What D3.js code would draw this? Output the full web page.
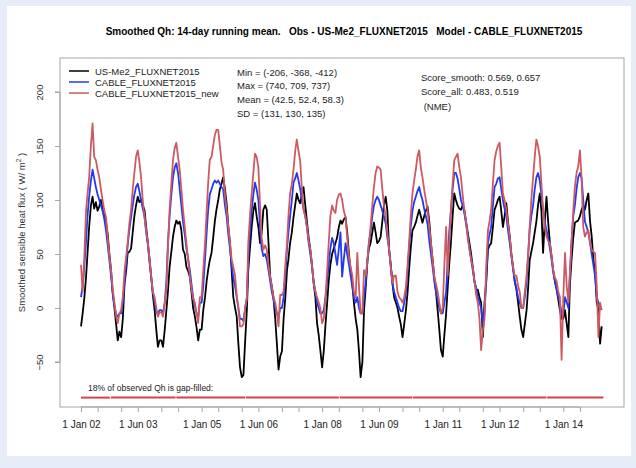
<!DOCTYPE html>
<head>
  <meta charset="utf-8">
  <script src="https://d3js.org/d3.v7.min.js"></script>
  <style>
    body { margin: 0; background: #e6ecf8; }
    svg { display: block; font-family: "Liberation Sans", Arial, sans-serif; }
  </style>
</head>
<body>
<div id="chart"></div>
<script>
  // semi-monthly samples (1st and 16th of each month), one row per year 2002..2014
  var obs = [
    -17, -5, 10, 29, 50, 75, 95, 103, 92, 98, 90, 94, 100, 92, 88, 80, 68, 50, 35, 14, 0, -15, -30, -22,
    -27, -10, 23, 35, 51, 52, 55, 70, 85, 95, 103, 98, 100, 95, 91, 75, 60, 45, 29, 12, -2, -20, -36, -30,
    -30, -36, -20, -2, 15, 38, 52, 66, 75, 81, 78, 80, 72, 54, 50, 38, 34, 29, 15, 0, -8, -18, -30, -20,
    -20, -2, 10, 25, 35, 44, 51, 65, 80, 91, 100, 110, 115, 121, 110, 97, 75, 60, 35, 10, 0, -8, -33, -55,
    -64, -62, -30, -2, 35, 55, 75, 90, 97, 85, 75, 60, 70, 91, 95, 91, 60, 29, 20, 10, -10, -33, -57, -45,
    -40, -10, 10, 35, 45, 60, 70, 84, 95, 106, 100, 97, 105, 112, 95, 80, 65, 54, 40, 23, 10, -14, -25, -39,
    -55, -40, -15, 5, 25, 40, 50, 55, 60, 65, 75, 81, 78, 82, 84, 70, 50, 35, 23, 5, -10, -20, -40, -64,
    -50, -2, 20, 44, 55, 60, 70, 79, 70, 60, 62, 66, 80, 95, 103, 90, 54, 40, 23, 10, 5, 0, -8, -15,
    -27, -15, -2, 15, 35, 55, 72, 75, 79, 85, 91, 85, 79, 85, 90, 94, 80, 60, 45, 29, 15, -2, -20, -39,
    -45, -25, -5, 20, 40, 60, 85, 106, 100, 95, 92, 91, 95, 91, 80, 70, 60, 50, 38, 25, 17, 17, 10, 5,
    -27, 5, 25, 54, 58, 60, 75, 91, 95, 100, 103, 90, 75, 85, 97, 80, 66, 50, 38, 25, 17, 5, -8, -20,
    -27, -15, -2, 20, 44, 52, 60, 70, 80, 95, 106, 90, 51, 80, 103, 80, 60, 48, 35, 25, 17, 8, -2, -10,
    -10, -2, -15, -27, 20, 44, 65, 79, 80, 81, 85, 91, 95, 91, 100, 106, 80, 66, 45, 35, 5, -2, -33, -17
  ];
  var cable = [
    10, 20, 40, 62, 85, 103, 118, 128, 120, 112, 105, 100, 95, 90, 82, 72, 58, 44, 30, 14, 2, -6, -8, -5,
    -5, 5, 25, 42, 58, 72, 84, 95, 105, 112, 115, 108, 100, 92, 85, 70, 58, 42, 28, 15, 5, -3, -6, -2,
    -2, -5, 5, 25, 60, 85, 105, 121, 130, 134, 125, 110, 95, 80, 68, 55, 45, 35, 22, 10, 2, -5, -8, 5,
    5, 20, 45, 70, 90, 105, 110, 115, 118, 116, 118, 115, 112, 110, 95, 85, 68, 55, 40, 28, 20, 10, 0, -10,
    -10, -12, 0, 10, 45, 70, 90, 105, 116, 110, 100, 75, 55, 48, 50, 45, 35, 25, 15, 8, 0, -5, -8, 0,
    0, 10, 30, 55, 70, 85, 100, 116, 120, 125, 118, 110, 100, 92, 85, 75, 60, 50, 38, 25, 15, 5, 0, -5,
    -5, -2, 10, 25, 40, 55, 65, 60, 50, 40, 55, 70, 29, 45, 60, 50, 40, 30, 20, 10, 5, 10, 0, -5,
    -5, 10, 25, 44, 60, 70, 85, 95, 100, 103, 100, 95, 90, 85, 78, 65, 54, 38, 23, 15, 10, 5, 0, -3,
    -3, 5, 15, 35, 55, 75, 90, 98, 103, 108, 112, 105, 100, 92, 85, 78, 62, 50, 38, 25, 15, 8, 0, -5,
    -5, 5, 15, 45, 70, 90, 110, 125, 125, 120, 110, 100, 95, 88, 78, 68, 55, 45, 35, 25, 18, 10, 5, 0,
    -15, -5, 30, 60, 68, 75, 95, 112, 115, 120, 121, 110, 100, 92, 85, 72, 60, 48, 36, 25, 18, 10, 5, 0,
    0, 10, 25, 50, 72, 85, 95, 110, 121, 125, 118, 105, 90, 80, 72, 65, 55, 45, 33, 25, 18, 10, 5, -5,
    -5, 10, 5, 0, 30, 60, 85, 95, 110, 121, 125, 120, 100, 80, 75, 70, 60, 50, 40, 30, 10, 5, 0, 0
  ];
  var cableNew = [
    40, 15, 50, 91, 105, 121, 150, 171, 140, 137, 128, 121, 110, 100, 90, 84, 65, 48, 35, 18, 5, -8, -14, -5,
    -2, 10, 35, 48, 60, 78, 91, 110, 125, 140, 146, 135, 121, 100, 84, 72, 60, 45, 29, 15, 10, 0, -8, -4,
    -4, -8, 5, 17, 55, 91, 115, 137, 148, 153, 140, 128, 110, 91, 75, 60, 45, 29, 18, 8, 5, -5, -14, 10,
    10, 35, 60, 90, 115, 137, 140, 150, 160, 165, 165, 150, 135, 128, 105, 91, 75, 60, 45, 38, 30, 12, 0, -17,
    -17, -15, 0, 8, 60, 85, 106, 125, 143, 140, 130, 95, 65, 54, 58, 54, 40, 29, 20, 10, 5, -4, -17, 12,
    12, 15, 40, 60, 85, 106, 115, 128, 145, 156, 145, 136, 110, 91, 85, 75, 62, 54, 40, 23, 15, 10, 5, 0,
    -14, -10, 10, 35, 60, 85, 95, 90, 88, 100, 105, 106, 100, 90, 84, 65, 47, 38, 30, 15, 10, 51, 20, -5,
    -5, 35, 30, 44, 60, 75, 95, 112, 125, 131, 130, 128, 110, 95, 84, 70, 54, 38, 23, 30, 30, 15, 10, 8,
    5, 10, 20, 40, 60, 85, 106, 118, 128, 140, 146, 130, 121, 110, 100, 91, 75, 60, 45, 29, 22, 15, 5, -5,
    0, 40, 75, 30, 60, 90, 115, 137, 140, 143, 130, 121, 105, 91, 80, 65, 54, 45, 38, 25, 12, 5, -10, -39,
    -20, -10, 40, 72, 80, 91, 115, 137, 145, 150, 153, 130, 106, 100, 91, 78, 66, 50, 38, 30, 30, 20, 15, 0,
    0, 15, 30, 50, 75, 100, 121, 140, 156, 150, 140, 115, 91, 75, 66, 62, 60, 48, 35, 28, 25, 15, 10, -48,
    10, 51, 20, 5, 30, 60, 90, 112, 125, 131, 146, 120, 75, 66, 70, 72, 60, 54, 52, 51, 20, -27, 5, -2
  ];
  var seriesNames = ["US-Me2_FLUXNET2015", "CABLE_FLUXNET2015", "CABLE_FLUXNET2015_new"];
  var seriesColors = ["#000000", "#2338f2", "#cd5a62"];
  var statLines = ["Min = (-206, -368, -412)", "Max = (740, 709, 737)",
                   "Mean = (42.5, 52.4, 58.3)", "SD = (131, 130, 135)"];
  var scoreLines = ["Score_smooth: 0.569, 0.657", "Score_all: 0.483, 0.519", " (NME)"];
  var yTicks = [-50, 0, 50, 100, 150, 200];
  var gapLevel = -83;
  // periods flagged as gap-filled (drawn along the bottom)
  var gapPeriods = [["2002-01-01", "2002-09-20"], ["2002-09-28", "2004-05-10"], ["2004-05-16", "2006-02-01"],
                    ["2006-02-06", "2008-06-01"], ["2008-06-08", "2010-04-01"], ["2010-04-06", "2013-08-01"],
                    ["2013-08-07", "2014-12-31"]];

  var W = 636, H = 468;
  var pL = 60, pR = 624, pT = 58, pB = 407;

  var dates = obs.map(function(d, i) {
    return new Date(2002 + Math.floor(i / 24), Math.floor((i % 24) / 2), i % 2 ? 16 : 1);
  });

  var x = d3.scaleTime()
    .domain([new Date(2002, 0, 1), new Date(2015, 0, 1)])
    .range([81, 603.5]);
  var y = d3.scaleLinear()
    .domain([-91.7, 231.5])
    .range([pB, pT]);

  var svg = d3.select("#chart").append("svg")
    .attr("width", W)
    .attr("height", H);

  svg.append("rect")
    .attr("x", 7).attr("y", 6)
    .attr("width", 624).attr("height", 450)
    .attr("fill", "#fff");

  svg.append("text")
    .attr("x", (pL + pR) / 2 + 2)
    .attr("y", 35)
    .attr("text-anchor", "middle")
    .attr("font-size", 10)
    .attr("font-weight", "bold")
    .style("white-space", "pre")
    .text("Smoothed Qh: 14-day running mean.   Obs - US-Me2_FLUXNET2015   Model - CABLE_FLUXNET2015");

  // lines
  var line = d3.line()
    .x(function(d, i) { return x(dates[i]); })
    .y(function(d) { return y(d); });

  var plot = svg.append("g");
  [obs, cable, cableNew].forEach(function(s, k) {
    plot.append("path")
      .datum(s)
      .attr("d", line)
      .attr("fill", "none")
      .attr("stroke", seriesColors[k])
      .attr("stroke-width", 1.8)
      .attr("stroke-linejoin", "round");
  });

  // gap-filled indicator
  var parse = d3.timeParse("%Y-%m-%d");
  plot.selectAll("line.gap")
    .data(gapPeriods)
    .enter().append("line")
      .attr("class", "gap")
      .attr("x1", function(d) { return x(parse(d[0])); })
      .attr("x2", function(d) { return x(parse(d[1])); })
      .attr("y1", y(gapLevel))
      .attr("y2", y(gapLevel))
      .attr("stroke", "#d0454d")
      .attr("stroke-width", 2);

  svg.append("text")
    .attr("x", 88)
    .attr("y", y(gapLevel) - 7)
    .attr("font-size", 8.5)
    .attr("fill", "#222")
    .text("18% of observed Qh is gap-filled:");

  // box
  svg.append("rect")
    .attr("x", pL).attr("y", pT)
    .attr("width", pR - pL).attr("height", pB - pT)
    .attr("fill", "none")
    .attr("stroke", "#a6a6a6")
    .attr("stroke-width", 1);

  // y axis
  var yAxis = svg.append("g")
    .attr("transform", "translate(" + pL + ",0)")
    .call(d3.axisLeft(y).tickValues(yTicks).tickSize(5).tickPadding(0).tickFormat(d3.format("d")));
  yAxis.select(".domain").attr("stroke", "#a6a6a6")
    .attr("d", "M-5," + y(yTicks[0]) + "H0V" + y(yTicks[yTicks.length - 1]) + "H-5");
  yAxis.selectAll(".tick line").attr("stroke", "#a6a6a6");
  yAxis.selectAll(".tick text")
    .attr("font-family", "Liberation Sans, Arial, sans-serif")
    .attr("font-size", 9.5)
    .attr("fill", "#333")
    .attr("x", null).attr("dy", null)
    .attr("text-anchor", "middle")
    .attr("transform", "translate(-17,0) rotate(-90)");

  // x axis: ticks on 1 Jan and 1 Jun, every third labelled
  var xTicks = [];
  for (var yr = 2002; yr <= 2014; yr++) {
    xTicks.push(new Date(yr, 0, 1));
    xTicks.push(new Date(yr, 5, 1));
  }
  var fmt = d3.timeFormat("%-d %b %y");
  var xAxis = svg.append("g")
    .attr("transform", "translate(0," + pB + ")")
    .call(d3.axisBottom(x).tickValues(xTicks).tickSize(5).tickPadding(9)
      .tickFormat(function(d, i) { return i % 3 === 0 ? fmt(d) : ""; }));
  xAxis.select(".domain").attr("stroke", "#a6a6a6")
    .attr("d", "M" + x(xTicks[0]) + ",0H" + x(xTicks[xTicks.length - 1]));
  xAxis.selectAll(".tick line").attr("stroke", "#a6a6a6");
  xAxis.selectAll(".tick text")
    .attr("font-family", "Liberation Sans, Arial, sans-serif")
    .attr("font-size", 10)
    .attr("fill", "#222");

  // y title
  var yt = svg.append("text")
    .attr("transform", "translate(25," + ((pT + pB) / 2) + ") rotate(-90)")
    .attr("text-anchor", "middle")
    .attr("font-size", 9.5)
    .attr("fill", "#333");
  yt.append("tspan").text("Smoothed sensible heat flux  ( W/ m");
  yt.append("tspan").attr("font-size", 6.5).attr("dy", -4).text("2");
  yt.append("tspan").attr("dy", 4).text(" )");

  // legend
  var leg = svg.append("g");
  seriesNames.forEach(function(n, k) {
    var ly = 71 + k * 11;
    leg.append("line")
      .attr("x1", 69).attr("x2", 89)
      .attr("y1", ly).attr("y2", ly)
      .attr("stroke", seriesColors[k]).attr("stroke-width", 1.5);
    leg.append("text")
      .attr("x", 95).attr("y", ly + 3.5)
      .attr("font-size", 9.5).attr("fill", "#222")
      .text(n);
  });
  statLines.forEach(function(t, k) {
    leg.append("text")
      .attr("x", 237).attr("y", 75.5 + k * 13.7)
      .attr("font-size", 9.5).attr("fill", "#222")
      .text(t);
  });
  scoreLines.forEach(function(t, k) {
    leg.append("text")
      .attr("x", 421).attr("y", 80.5 + k * 14.5)
      .attr("font-size", 9.5).attr("fill", "#222")
      .style("white-space", "pre")
      .text(t);
  });
</script>
</body>
